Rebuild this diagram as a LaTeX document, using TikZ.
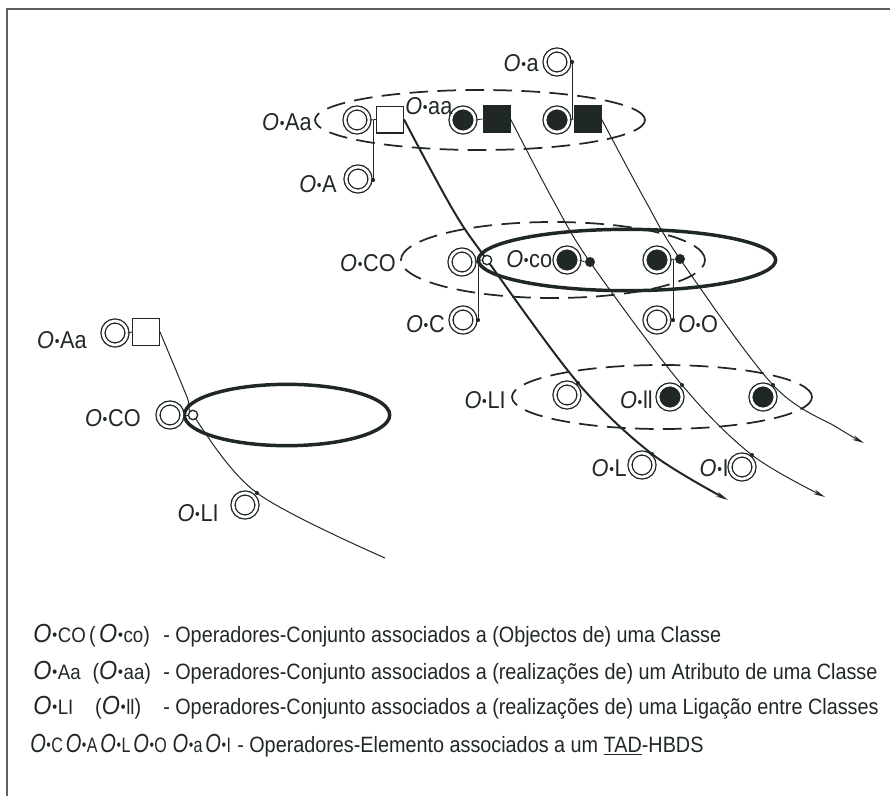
\documentclass[tikz,border=0pt]{standalone}
\usepackage{fontspec}
\setmainfont{Liberation Sans}
\usepackage{graphicx}
\usetikzlibrary{shapes.geometric,arrows.meta}
\definecolor{ink}{RGB}{32,40,38}
\definecolor{framecol}{RGB}{90,95,95}
\newcommand\mydot{\raisebox{0.06em}{\scalebox{0.62}{•}}}
\newcommand\dop[1]{\scalebox{1}[1.12]{{\itshape O}\kern0.5pt\mydot\kern0.5pt#1}}
\newcommand\lop[1]{\scalebox{1}[1.12]{{\fontsize{17.5}{18}\selectfont\itshape O\kern0.5pt\mydot\kern0.5pt}{\fontsize{14}{15}\selectfont #1}}}
\newcommand\tall[1]{\scalebox{1}[1.12]{#1}}
\begin{document}
\begin{tikzpicture}[x=0.75pt,y=-0.75pt,
  dcirc/.style={circle, draw=ink, line width=1pt, double=white, double distance=2pt, minimum size=18pt, inner sep=0pt, fill=white},
  fcirc/.style={dcirc, fill=ink},
  wsq/.style={rectangle, draw=ink, line width=1pt, minimum size=20pt, inner sep=0pt, fill=white},
  bsq/.style={wsq, fill=ink},
  sdot/.style={circle, fill=ink, minimum size=3pt, inner sep=0pt},
  bdot/.style={circle, fill=ink, minimum size=7.5pt, inner sep=0pt},
  odot/.style={circle, draw=ink, line width=1pt, fill=white, minimum size=7pt, inner sep=0pt},
  dashell/.style={ellipse, draw=ink, line width=1.3pt, dash pattern=on 14pt off 7pt, inner sep=0pt},
  thickell/.style={ellipse, draw=ink, line width=2.6pt, inner sep=0pt},
  conn/.style={draw=ink, line width=0.6pt},
  thickcurve/.style={draw=ink, line width=1.5pt},
  thincurve/.style={draw=ink, line width=0.75pt},
  lbl/.style={text=ink, inner sep=0pt, font=\fontsize{16.3}{17}\selectfont},
  leg/.style={text=ink, inner sep=0pt, anchor=base west, font=\fontsize{14.85}{16}\selectfont},
  tip/.style={-{Stealth[length=9pt,width=3.6pt]}}
]
\useasboundingbox (0,0) rectangle (890,796);
\draw[framecol, line width=1.5pt] (6.5,796) -- (6.5,9) -- (890,9);

% ---------- ellipses ----------
\node[dashell, minimum width=247.5pt, minimum height=45pt] (E1) at (480,120) {};
\node[dashell, minimum width=228pt, minimum height=57pt] (E2) at (553,260) {};
\node[thickell, minimum width=223pt, minimum height=46pt] (E3) at (627,260) {};
\node[dashell, minimum width=225pt, minimum height=48pt] (E4) at (662,397) {};
\node[thickell, minimum width=154pt, minimum height=46pt] (E5) at (287,415) {};

% ---------- squares and junction dots ----------
\node[wsq] (tW) at (390,119.5) {};
\node[bsq] (tB1) at (496.5,119) {};
\node[bsq] (tB2) at (587.5,119) {};
\node[sdot] (dta) at (572,62) {};
\node[sdot] (dtA) at (373,180) {};
\node[sdot] (dmC) at (478,320) {};
\node[sdot] (dmO) at (673,320) {};
\node[wsq] (lW) at (146,332) {};

% curve way points
\coordinate (c1a) at (453,210);
\coordinate (c1b) at (578,383);
\coordinate (c1c) at (652,454);
\coordinate (c1e) at (728,500);
\coordinate (c2a) at (553,200);
\coordinate (c2b) at (682,385);
\coordinate (c2c) at (752,455);
\coordinate (c2e) at (825,497);
\coordinate (c3a) at (645,200);
\coordinate (c3b) at (773,385);
\coordinate (c3c) at (838,428);
\coordinate (c3e) at (864,443);
\coordinate (c5a) at (187,397);
\coordinate (c5b) at (257,493);
\coordinate (c5e) at (385,558);

% connectors (vertical)
\draw[conn] (dta) -- (dta |- tB2.west);
\draw[conn] (dtA) -- (dtA |- tW.west);
\draw[conn] (dmC) -- (478,262);
\draw[conn] (dmO) -- (673,260);

% curves
\draw[thickcurve, tip] plot[smooth, tension=0.55] coordinates {(tW.east) (c1a) (487,260) (c1b) (c1c) (c1e)};
\draw[thincurve, tip] plot[smooth, tension=0.55] coordinates {(tB1.east) (c2a) (590,262) (c2b) (c2c) (c2e)};
\draw[thincurve, tip] plot[smooth, tension=0.55] coordinates {(tB2.east) (c3a) (680,259) (c3b) (c3c) (c3e)};
\draw[thincurve] plot[smooth, tension=0.55] coordinates {(lW.east) (c5a) (193,415) (c5b) (c5e)};

% circles on top
\node[dcirc] (tAa) at (357,120) {};
\node[fcirc] (tF1) at (463,120) {};
\node[fcirc] (tF2) at (557,120) {};
\node[dcirc] (ta) at (557,62) {};
\node[dcirc] (tA) at (358,179) {};
\draw[conn] (tAa.east) -- (tW.west);
\draw[conn] (tF1.east) -- (tB1.west);
\draw[conn] (tF2.east) -- (tB2.west);

\node[dcirc] (mCO) at (462,262) {};
\node[odot] (mo) at (487,260) {};
\node[fcirc] (mF1) at (567,260) {};
\node[bdot] (md1) at (590,262) {};
\node[fcirc] (mF2) at (657,260) {};
\node[bdot] (md2) at (680,259) {};
\node[dcirc] (mC) at (463,320) {};
\node[dcirc] (mO) at (657,320) {};
\draw[conn] (mCO.east) -- (mo.west);
\draw[conn] (mF1.east) -- (md1.west);
\draw[conn] (mF2.east) -- (md2.west);
\node[sdot] at (dmC) {};
\node[sdot] at (dmO) {};
\node[sdot] at (dta) {};
\node[sdot] at (dtA) {};

\node[dcirc] (bLI) at (567,395) {};
\node[fcirc] (bll) at (670,397) {};
\node[fcirc] (bF) at (763,397) {};
\node[dcirc] (bL) at (642,465) {};
\node[dcirc] (bI) at (742,467) {};
\node[sdot] (dbLI) at (c1b) {};
\node[sdot] (dbll) at (c2b) {};
\node[sdot] (dbF) at (c3b) {};
\node[sdot] (dbL) at (c1c) {};
\node[sdot] (dbI) at (c2c) {};

\node[dcirc] (lAa) at (115,333) {};
\node[dcirc] (lCO) at (170,415) {};
\node[odot] (lo) at (193,415) {};
\node[dcirc] (lLI) at (245,505) {};
\node[sdot] (dlLI) at (c5b) {};
\draw[conn] (lAa.east) -- (lW.west);
\draw[conn] (lCO.east) -- (lo.west);

% ---------- labels ----------
\node[lbl, anchor=east] (LtAa) at (312,122) {\dop{Aa}};
\node[lbl, anchor=west] (Ltaa) at (405,106) {\dop{aa}};
\node[lbl, anchor=east] (Lta) at (539,63) {\dop{a}};
\node[lbl, anchor=east] (LtA) at (337,184) {\dop{A}};
\node[lbl, anchor=east] (LmCO) at (396,263) {\dop{CO}};
\node[lbl, anchor=west] (Lmco) at (506,259) {\dop{co}};
\node[lbl, anchor=east] (LmC) at (445,324) {\dop{C}};
\node[lbl, anchor=west] (LmO) at (678,324) {\dop{O}};
\node[lbl, anchor=east] (LbLI) at (506,400) {\dop{LI}};
\node[lbl, anchor=east] (Lbll) at (653,400) {\dop{ll}};
\node[lbl, anchor=east] (LbL) at (627,468) {\dop{L}};
\node[lbl, anchor=east] (LbI) at (729,468) {\dop{I}};
\node[lbl, anchor=east] (LlAa) at (87,340) {\dop{Aa}};
\node[lbl, anchor=east] (LlCO) at (141,418) {\dop{CO}};
\node[lbl, anchor=east] (LlLI) at (219,513) {\dop{LI}};

% ---------- legend ----------
\node[leg] (g1a) at (33,642) {\lop{CO}\,\tall{(}\,\lop{co}\tall{)}};
\node[leg] (g1b) at (163,642) {\tall{- Operadores-Conjunto associados a (Objectos de) uma Classe}};
\node[leg] (g2a) at (33,679) {\lop{Aa}\hspace{0.6em}\tall{(}\lop{aa}\tall{)}};
\node[leg] (g2b) at (163,679) {\tall{- Operadores-Conjunto associados a (realizações de) um Atributo de uma Classe}};
\node[leg] (g3a) at (33,714) {\lop{LI}\hspace{1.1em}\tall{(}\lop{ll}\tall{)}};
\node[leg] (g3b) at (163,714) {\tall{- Operadores-Conjunto associados a (realizações de) uma Ligação entre Classes}};
\node[leg] (g4a) at (30,752) {\scalebox{0.86}[1]{\lop{C}\,\lop{A}\,\lop{L}\,\lop{O}\,\,\lop{a}\,\lop{I}}};
\node[leg] (g4b) at (237,752) {\tall{- Operadores-Elemento associados a um \underline{TAD}-HBDS}};
\end{tikzpicture}
\end{document}
